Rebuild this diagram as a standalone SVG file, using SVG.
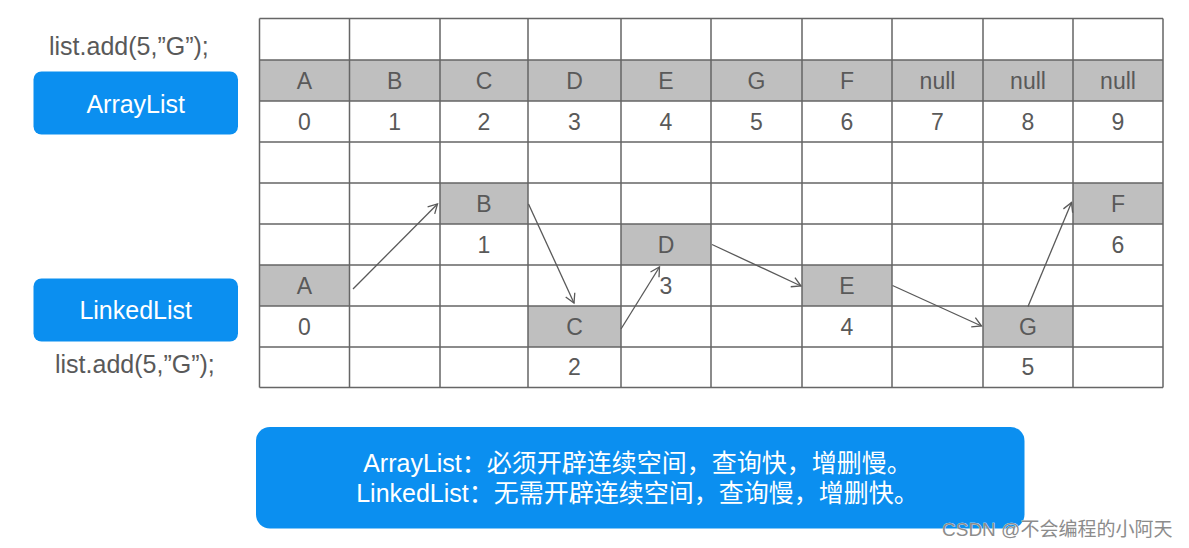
<svg xmlns="http://www.w3.org/2000/svg" width="1189" height="548" viewBox="0 0 1189 548">
<style>
.bg{fill:#ffffff}
.shade{fill:#bfbfbf}
.grid{stroke:#666666;stroke-width:1.5;fill:none}
.cell{font-family:"Liberation Sans",Arial,sans-serif;font-size:23px;fill:#595959;text-anchor:middle}
.code{font-family:"Liberation Sans",Arial,sans-serif;font-size:25px;fill:#595959}
.btn{fill:#0b8ff0}
.btntext{font-family:"Liberation Sans",Arial,sans-serif;font-size:25px;fill:#ffffff;text-anchor:middle}
.note{font-family:"Liberation Sans","Noto Sans CJK SC",sans-serif;font-size:25px;fill:#ffffff;text-anchor:middle}
.wm{font-family:"Liberation Sans","Noto Sans CJK SC",sans-serif;font-size:19px;fill:#8c8c8c;stroke:#ffffff;stroke-width:0.6;paint-order:stroke}
.link{stroke:#595959;stroke-width:1.3;fill:none}
</style>
<defs>
<marker id="arr" viewBox="-11 -7 13 14" refX="0" refY="0" markerWidth="13" markerHeight="14" markerUnits="userSpaceOnUse" orient="auto">
<path d="M-9,-5 L0,0 L-9,5" fill="none" stroke="#595959" stroke-width="1.3"/>
</marker>
</defs>
<rect class="bg" x="0" y="0" width="1189" height="548"/>

<!-- shaded cells -->
<g id="array-row">
<rect class="shade" x="259.5" y="60" width="903.5" height="41"/>
</g>
<g id="node-A"><rect class="shade" x="259.5" y="265" width="90" height="41"/><text class="cell" x="304.5" y="294">A</text><text class="cell" x="304.5" y="335">0</text></g>
<g id="node-B"><rect class="shade" x="440" y="183" width="88" height="41"/><text class="cell" x="484" y="212">B</text><text class="cell" x="484" y="253">1</text></g>
<g id="node-C"><rect class="shade" x="528" y="306" width="93" height="41"/><text class="cell" x="574.5" y="335">C</text><text class="cell" x="574.5" y="375">2</text></g>
<g id="node-D"><rect class="shade" x="621" y="224" width="90" height="41"/><text class="cell" x="666" y="253">D</text><text class="cell" x="666" y="294">3</text></g>
<g id="node-E"><rect class="shade" x="802" y="265" width="90" height="41"/><text class="cell" x="847" y="294">E</text><text class="cell" x="847" y="335">4</text></g>
<g id="node-G"><rect class="shade" x="983" y="306" width="90" height="41"/><text class="cell" x="1028" y="335">G</text><text class="cell" x="1028" y="375">5</text></g>
<g id="node-F"><rect class="shade" x="1073" y="183" width="90" height="41"/><text class="cell" x="1118" y="212">F</text><text class="cell" x="1118" y="253">6</text></g>

<!-- grid lines -->
<g id="grid" class="grid">
<path d="M259.5,18.5V387.5 M349.5,18.5V387.5 M440,18.5V387.5 M528,18.5V387.5 M621,18.5V387.5 M711,18.5V387.5 M802,18.5V387.5 M892,18.5V387.5 M983,18.5V387.5 M1073,18.5V387.5 M1163,18.5V387.5"/>
<path d="M259.5,18.5H1163 M259.5,60H1163 M259.5,101H1163 M259.5,142H1163 M259.5,183H1163 M259.5,224H1163 M259.5,265H1163 M259.5,306H1163 M259.5,347H1163 M259.5,387.5H1163"/>
</g>

<!-- array labels -->
<g id="array-values">
<text class="cell" x="304.5" y="89">A</text>
<text class="cell" x="394.75" y="89">B</text>
<text class="cell" x="484" y="89">C</text>
<text class="cell" x="574.5" y="89">D</text>
<text class="cell" x="666" y="89">E</text>
<text class="cell" x="756.5" y="89">G</text>
<text class="cell" x="847" y="89">F</text>
<text class="cell" x="937.5" y="89">null</text>
<text class="cell" x="1028" y="89">null</text>
<text class="cell" x="1118" y="89">null</text>
</g>
<g id="array-index">
<text class="cell" x="304.5" y="130">0</text>
<text class="cell" x="394.75" y="130">1</text>
<text class="cell" x="484" y="130">2</text>
<text class="cell" x="574.5" y="130">3</text>
<text class="cell" x="666" y="130">4</text>
<text class="cell" x="756.5" y="130">5</text>
<text class="cell" x="847" y="130">6</text>
<text class="cell" x="937.5" y="130">7</text>
<text class="cell" x="1028" y="130">8</text>
<text class="cell" x="1118" y="130">9</text>
</g>

<!-- connectors -->
<g id="connectors" class="link">
<line x1="353" y1="289" x2="437.5" y2="204" marker-end="url(#arr)"/>
<line x1="528.5" y1="204" x2="574" y2="303" marker-end="url(#arr)"/>
<line x1="621" y1="329" x2="659.5" y2="267" marker-end="url(#arr)"/>
<line x1="712" y1="244.5" x2="801" y2="286" marker-end="url(#arr)"/>
<line x1="892.5" y1="285.5" x2="981.5" y2="326" marker-end="url(#arr)"/>
<line x1="1028" y1="306.5" x2="1071.5" y2="202.5" marker-end="url(#arr)"/>
</g>

<!-- left side -->
<g id="code-top"><text class="code" x="49" y="55">list.add(5,”G”);</text></g>
<g id="btn-arraylist"><rect class="btn" x="33.5" y="71.5" width="204.5" height="63" rx="8"/><text class="btntext" x="135.7" y="112.5">ArrayList</text></g>
<g id="btn-linkedlist"><rect class="btn" x="33.5" y="278.5" width="204.5" height="63" rx="8"/><text class="btntext" x="135.7" y="318.5">LinkedList</text></g>
<g id="code-bottom"><text class="code" x="55" y="372.5">list.add(5,”G”);</text></g>

<!-- summary -->
<g id="summary">
<rect class="btn" x="256" y="427" width="768.5" height="101.5" rx="14"/>
<text class="note" x="637.5" y="472">ArrayList：必须开辟连续空间，查询快，增删慢。</text>
<text class="note" x="637.5" y="502">LinkedList：无需开辟连续空间，查询慢，增删快。</text>
</g>

<g id="watermark"><text class="wm" x="942" y="536">CSDN @不会编程的小阿天</text></g>
</svg>
